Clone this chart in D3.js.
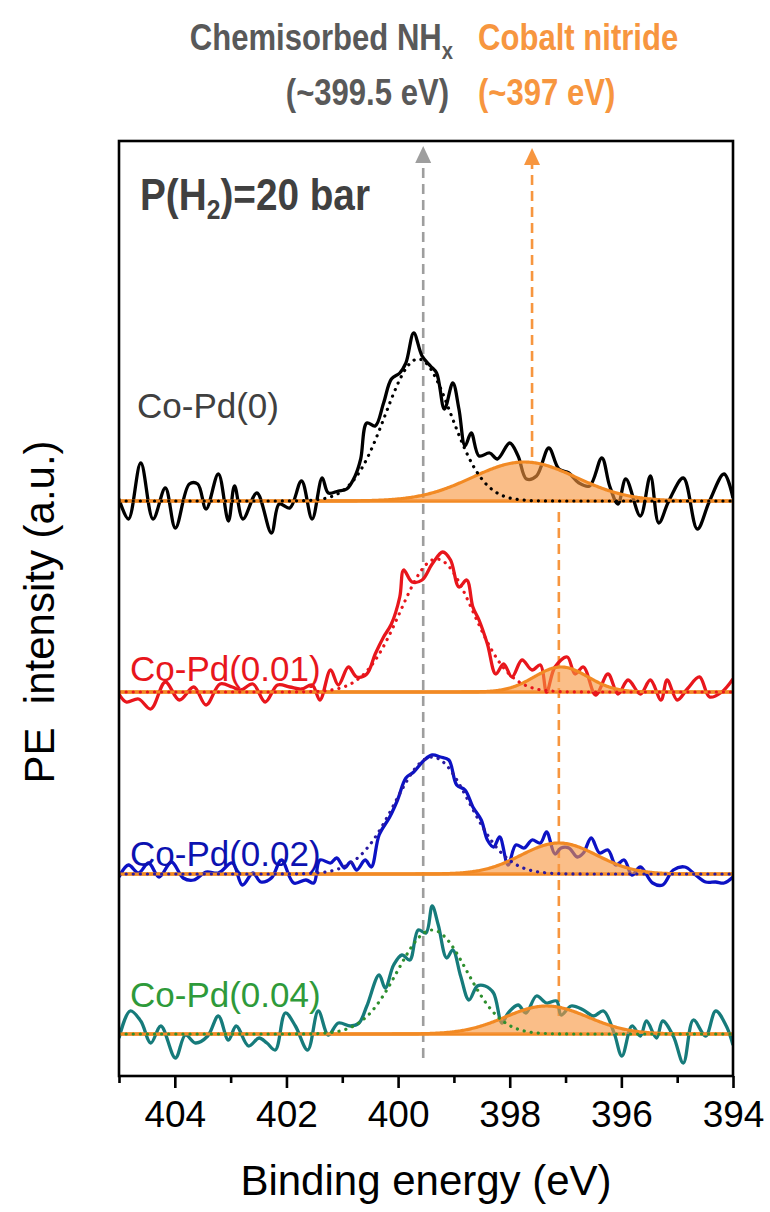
<!DOCTYPE html>
<html>
<head>
<meta charset="utf-8">
<script src="https://cdn.jsdelivr.net/npm/d3@7"></script>
<style>
  body { margin: 0; background: #fff; }
  svg { display: block; font-family: "Liberation Sans", Arial, sans-serif; }
</style>
</head>
<body>
<svg id="chart" width="770" height="1212"></svg>
<script>
// N 1s spectra, one trace per sample (binding energy in eV, intensity in a.u.)
const samples = ["Co-Pd(0)", "Co-Pd(0.01)", "Co-Pd(0.02)", "Co-Pd(0.04)"];

const energyCoPd0 = [405.00, 404.83, 404.61, 404.39, 404.17, 403.99, 403.74, 403.59, 403.44, 403.22, 403.04, 402.93, 402.78, 402.53, 402.27, 402.13, 401.94, 401.73, 401.54, 401.36, 401.25, 401.07, 400.92, 400.77, 400.67, 400.56, 400.41, 400.26, 400.12, 399.97, 399.86, 399.72, 399.57, 399.42, 399.31, 399.17, 399.02, 398.91, 398.80, 398.69, 398.55, 398.36, 398.22, 398.00, 397.85, 397.70, 397.52, 397.30, 397.12, 396.94, 396.76, 396.57, 396.35, 396.21, 396.06, 395.92, 395.66, 395.48, 395.33, 395.15, 394.89, 394.64, 394.42, 394.16, 394.00];
const countsCoPd0 = [2, -18, 38, -18, 13, -27, 17, 17, -8, 27, -20, 15, -18, 8, -32, -3, -7, 20, -18, 23, 8, 10, 12, 25, 42, 78, 75, 98, 122, 128, 138, 168, 145, 135, 128, 92, 118, 92, 55, 68, 45, 48, 42, 58, 45, 22, 25, 53, 32, 28, 18, 15, 43, 15, -3, 22, -15, 25, -22, 0, 23, -28, 0, 27, 3];

const energyCoPd001 = [405.00, 404.87, 404.65, 404.43, 404.17, 403.92, 403.66, 403.44, 403.19, 402.97, 402.82, 402.60, 402.38, 402.16, 401.94, 401.73, 401.54, 401.40, 401.21, 401.07, 400.89, 400.74, 400.56, 400.41, 400.26, 400.12, 399.97, 399.90, 399.75, 399.57, 399.39, 399.20, 399.06, 398.91, 398.77, 398.66, 398.55, 398.40, 398.25, 398.11, 397.96, 397.78, 397.60, 397.45, 397.34, 397.19, 396.97, 396.83, 396.68, 396.46, 396.24, 396.06, 395.88, 395.66, 395.48, 395.29, 395.18, 395.00, 394.82, 394.60, 394.42, 394.20, 394.00];
const countsCoPd001 = [-2, -10, -7, -17, 10, -8, 5, -13, 8, 5, 2, 8, -10, 7, 5, 3, 7, -8, 22, 7, 25, 15, 18, 38, 55, 68, 95, 122, 110, 112, 128, 140, 132, 105, 112, 85, 72, 48, 18, 28, 15, 32, 22, 27, 0, 25, 35, 18, 25, -3, 18, -2, 12, -2, 12, -8, 12, -8, 3, 15, -5, 0, 13];

const energyCoPd002 = [405.00, 404.83, 404.65, 404.47, 404.28, 404.06, 403.85, 403.66, 403.44, 403.22, 402.97, 402.79, 402.60, 402.46, 402.27, 402.09, 401.87, 401.65, 401.51, 401.40, 401.21, 401.10, 400.96, 400.85, 400.74, 400.59, 400.48, 400.34, 400.15, 400.01, 399.86, 399.72, 399.53, 399.39, 399.24, 399.09, 398.95, 398.80, 398.66, 398.51, 398.40, 398.29, 398.18, 398.03, 397.89, 397.74, 397.60, 397.45, 397.34, 397.19, 397.08, 396.94, 396.79, 396.68, 396.54, 396.39, 396.24, 396.10, 395.95, 395.81, 395.66, 395.44, 395.26, 395.07, 394.86, 394.67, 394.49, 394.31, 394.16, 394.00];
const countsCoPd002 = [-3, 9, 1, 11, -3, 12, -4, -6, 2, 1, 11, -11, 1, -8, -4, 14, -9, -6, -9, 14, 11, 16, 6, 12, 4, 14, 7, 39, 57, 74, 96, 102, 114, 119, 117, 114, 89, 84, 67, 54, 34, 27, 37, 9, 29, 26, 34, 31, 42, 20, 26, 26, 17, 21, 36, 21, 24, 9, 14, -1, 7, -9, -11, 4, 7, -1, -8, -8, -9, -3];

const energyCoPd004 = [405.00, 404.80, 404.61, 404.43, 404.25, 403.99, 403.81, 403.63, 403.41, 403.22, 403.04, 402.90, 402.68, 402.49, 402.35, 402.20, 402.02, 401.84, 401.62, 401.43, 401.25, 401.07, 400.85, 400.70, 400.56, 400.34, 400.23, 400.08, 399.93, 399.79, 399.64, 399.50, 399.39, 399.28, 399.13, 399.02, 398.88, 398.73, 398.58, 398.44, 398.29, 398.14, 398.03, 397.85, 397.71, 397.52, 397.34, 397.16, 397.08, 396.90, 396.68, 396.50, 396.32, 396.13, 395.99, 395.81, 395.66, 395.55, 395.37, 395.26, 395.07, 394.89, 394.71, 394.49, 394.31, 394.12, 394.00];
const countsCoPd004 = [-4, 23, 13, -9, 8, -24, -1, -9, -2, 18, -6, 8, -12, -4, -9, -16, 21, 8, -16, 23, -1, 11, 8, 11, 28, 59, 46, 69, 79, 74, 104, 101, 128, 109, 76, 84, 58, 34, 48, 48, 41, 11, 21, 29, 21, 38, 31, 33, 19, 28, 24, 18, 23, 1, -22, 8, -2, 13, -4, 13, -2, -29, 14, -2, 23, 8, -11];

// Gaussian fit components: chemisorbed NHx and cobalt nitride
const nhxCenter = [399.64, 399.31, 399.39, 399.39];
const nhxHeight = [142, 133, 117, 104];
const nhxSigma = [0.59, 0.65, 0.67, 0.62];
const nitrideCenter = [397.74, 397.08, 397.12, 397.34];
const nitrideHeight = [39, 25, 31, 28];
const nitrideSigma = [0.93, 0.48, 0.68, 0.74];

// Vertical stacking of the traces (a.u.)
const stackOffset = [575, 384, 202, 42];

const majorTicks = [404, 402, 400, 398, 396, 394];
const minorTicks = [405, 403, 401, 399, 397, 395];
const nhxMarker = 399.55;
const nitrideMarker = 397.6;
const nitrideGuide = 397.12;

const energies = [energyCoPd0, energyCoPd001, energyCoPd002, energyCoPd004];
const counts = [countsCoPd0, countsCoPd001, countsCoPd002, countsCoPd004];
const traceColor = ["#000000", "#e8161c", "#0c12c4", "#167b7b"];
const fitColor = ["#000000", "#e8161c", "#2a1aa0", "#2e8f2e"];
const labelColor = ["#404040", "#e8161c", "#0c12b0", "#2e9a3a"];
const orange = "#f7963f";

const svg = d3.select("#chart");
const frame = { left: 119, right: 733, top: 141, bottom: 1076 };

const x = d3.scaleLinear().domain([405, 394]).range([frame.left, frame.right]);
const y = d3.scaleLinear().domain([0, 935]).range([frame.bottom, frame.top]);

const gauss = (e, c, h, s) => h * Math.exp(-0.5 * ((e - c) / s) ** 2);
const fineGrid = d3.range(405, 393.995, -0.02);

// Guide lines for the two N species
const guides = svg.append("g");
guides.append("line")
  .attr("x1", x(nhxMarker)).attr("x2", x(nhxMarker))
  .attr("y1", 1058).attr("y2", 158)
  .attr("stroke", "#9e9e9e").attr("stroke-width", 2.6).attr("stroke-dasharray", "10,6");
guides.append("path")
  .attr("d", `M${x(nhxMarker)},146 l-8,17 l16,0 z`).attr("fill", "#9e9e9e");
guides.append("line")
  .attr("x1", x(nitrideMarker)).attr("x2", x(nitrideMarker))
  .attr("y1", 457).attr("y2", 160)
  .attr("stroke", orange).attr("stroke-width", 2.6).attr("stroke-dasharray", "10,6");
guides.append("path")
  .attr("d", `M${x(nitrideMarker)},148 l-8,17 l16,0 z`).attr("fill", orange);
guides.append("line")
  .attr("x1", x(nitrideGuide)).attr("x2", x(nitrideGuide))
  .attr("y1", 512).attr("y2", 1016)
  .attr("stroke", orange).attr("stroke-width", 2.6).attr("stroke-dasharray", "10,6");

svg.append("clipPath").attr("id", "plotClip")
  .append("rect").attr("x", frame.left).attr("y", frame.top)
  .attr("width", frame.right - frame.left).attr("height", frame.bottom - frame.top);

const plot = svg.append("g").attr("clip-path", "url(#plotClip)");

samples.forEach((name, i) => {
  const off = stackOffset[i];
  const g = plot.append("g");

  // baseline of the fit
  g.append("line")
    .attr("x1", x(405)).attr("x2", x(394))
    .attr("y1", y(off)).attr("y2", y(off))
    .attr("stroke", "#f28a24").attr("stroke-width", 3.5);

  // measured trace
  const pts = energies[i].map((e, k) => [e, counts[i][k]]);
  g.append("path")
    .datum(pts)
    .attr("fill", "none")
    .attr("stroke", traceColor[i])
    .attr("stroke-width", 3.3)
    .attr("stroke-linejoin", "round")
    .attr("d", d3.line().x(d => x(d[0])).y(d => y(off + d[1])).curve(d3.curveCatmullRom.alpha(0.5)));

  // nitride component
  const nit = fineGrid.map(e => [e, gauss(e, nitrideCenter[i], nitrideHeight[i], nitrideSigma[i])]);
  g.append("path")
    .datum(nit)
    .attr("fill", "#f7963f").attr("fill-opacity", 0.62)
    .attr("d", d3.area().x(d => x(d[0])).y0(y(off)).y1(d => y(off + d[1])));
  g.append("path")
    .datum(nit)
    .attr("fill", "none").attr("stroke", "#f28a24").attr("stroke-width", 3.2)
    .attr("d", d3.line().x(d => x(d[0])).y(d => y(off + d[1])));

  // NHx component (dotted)
  const nhx = fineGrid.map(e => [e, gauss(e, nhxCenter[i], nhxHeight[i], nhxSigma[i])]);
  g.append("path")
    .datum(nhx)
    .attr("fill", "none").attr("stroke", fitColor[i])
    .attr("stroke-width", 3.2).attr("stroke-linecap", "round")
    .attr("stroke-dasharray", "0.1,7")
    .attr("d", d3.line().x(d => x(d[0])).y(d => y(off + d[1])));
});

// Sample labels
const labelPos = [[137, 418], [130, 681], [130, 866], [130, 1007]];
samples.forEach((name, i) => {
  svg.append("text")
    .attr("x", labelPos[i][0]).attr("y", labelPos[i][1])
    .attr("font-size", 35).attr("fill", labelColor[i])
    .text(name);
});

// Frame
svg.append("rect")
  .attr("x", frame.left).attr("y", frame.top)
  .attr("width", frame.right - frame.left).attr("height", frame.bottom - frame.top)
  .attr("fill", "none").attr("stroke", "#000").attr("stroke-width", 2.6);

// Bottom axis
const axis = svg.append("g").attr("transform", `translate(0,${frame.bottom})`)
  .call(d3.axisBottom(x).tickValues(majorTicks).tickFormat(d3.format("d")).tickSize(12).tickPadding(13));
axis.select(".domain").remove();
axis.selectAll(".tick line").attr("stroke", "#000").attr("stroke-width", 2.6);
axis.selectAll(".tick text").attr("font-size", 37).attr("fill", "#000")
  .attr("font-family", "'Liberation Sans', Arial, sans-serif");
const minor = svg.append("g").attr("transform", `translate(0,${frame.bottom})`)
  .call(d3.axisBottom(x).tickValues(minorTicks).tickFormat("").tickSize(7));
minor.select(".domain").remove();
minor.selectAll(".tick line").attr("stroke", "#000").attr("stroke-width", 2.6);

// Axis titles
svg.append("text")
  .attr("x", (frame.left + frame.right) / 2).attr("y", 1195)
  .attr("text-anchor", "middle").attr("font-size", 42).attr("fill", "#000")
  .text("Binding energy (eV)");
svg.append("text")
  .attr("transform", "translate(54,612) rotate(-90)")
  .attr("text-anchor", "middle").attr("font-size", 42).attr("fill", "#000")
  .style("white-space", "pre")
  .text("PE  intensity (a.u.)");

// Condition label
const cond = svg.append("text")
  .attr("transform", "translate(140,210) scale(0.88,1)")
  .attr("font-size", 44).attr("font-weight", "bold").attr("fill", "#404040");
cond.append("tspan").text("P(H");
cond.append("tspan").attr("font-size", 28).attr("dy", 9).text("2");
cond.append("tspan").attr("dy", -9).text(")=20 bar");

// Peak assignments above the frame
const head1 = svg.append("text")
  .attr("transform", "translate(453,50) scale(0.84,1)")
  .attr("text-anchor", "end").attr("font-size", 37).attr("font-weight", "bold").attr("fill", "#595959");
head1.append("tspan").text("Chemisorbed NH");
head1.append("tspan").attr("font-size", 24).attr("dy", 9).text("x");
svg.append("text")
  .attr("transform", "translate(449,105) scale(0.84,1)")
  .attr("text-anchor", "end").attr("font-size", 37).attr("font-weight", "bold").attr("fill", "#595959")
  .text("(~399.5 eV)");
svg.append("text")
  .attr("transform", "translate(478,50) scale(0.84,1)")
  .attr("font-size", 37).attr("font-weight", "bold").attr("fill", orange)
  .text("Cobalt nitride");
svg.append("text")
  .attr("transform", "translate(478,105) scale(0.84,1)")
  .attr("font-size", 37).attr("font-weight", "bold").attr("fill", orange)
  .text("(~397 eV)");
</script>
</body>
</html>
